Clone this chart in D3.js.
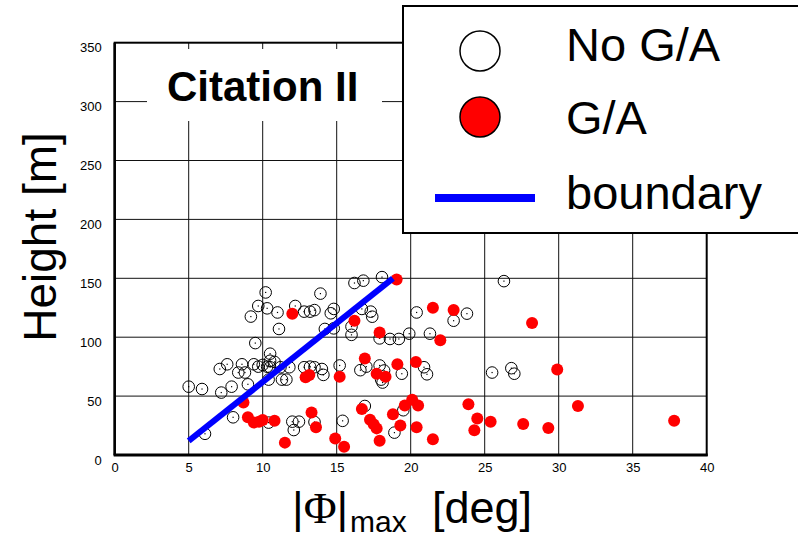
<!DOCTYPE html>
<html>
<head>
<meta charset="utf-8">
<script src="https://cdn.jsdelivr.net/npm/d3@7"></script>
<style>
  body { margin: 0; background: #fff; }
  svg { display: block; }
</style>
</head>
<body>
<svg id="chart" width="798" height="538"></svg>
<script>
// [phi max (deg), height (m)]
const noGA = [
  [5.0, 58], [5.9, 56], [6.1, 18], [7.2, 53], [7.9, 58], [9.0, 60], [8.0, 32],
  [7.1, 73], [7.6, 77], [8.35, 70], [8.6, 77], [8.8, 70], [9.4, 77], [9.7, 75],
  [10.0, 76.5], [10.3, 75], [10.5, 74.5], [10.8, 79], [10.4, 64], [11.2, 74.5],
  [11.3, 64], [11.6, 64], [11.8, 74.5], [12.8, 74.5], [13.2, 75], [13.5, 74.5],
  [14.0, 73], [14.1, 68], [15.2, 76], [16.6, 72], [17.0, 75], [17.9, 76],
  [18.2, 71.7], [18.0, 64], [18.1, 61.5], [19.4, 69],
  [9.5, 95], [10.5, 86], [10.5, 80],
  [9.2, 117.5], [9.7, 126.5], [10.3, 124.5], [10.2, 138], [11.0, 121], [12.2, 126.5],
  [12.8, 121.7], [13.2, 121.7], [13.5, 123], [13.9, 137], [14.6, 120.3], [14.8, 124],
  [16.7, 124], [17.3, 121.7], [17.4, 117.4], [11.1, 107], [14.2, 107], [14.8, 107.5],
  [16.0, 109], [16.0, 102], [17.9, 99], [18.6, 98.5], [19.2, 98.5], [19.9, 103],
  [16.2, 146], [16.8, 148], [18.06, 151],
  [20.4, 121], [23.8, 120], [22.9, 114], [21.3, 103], [20.9, 74.5], [21.1, 68.5],
  [25.5, 70], [26.8, 73.7], [27.0, 69], [26.3, 147.6],
  [12.0, 28.3], [12.45, 28.3], [12.1, 21.2], [13.5, 28], [15.4, 29], [16.9, 41.6],
  [18.9, 19], [19.5, 38], [10.4, 27.5]
];

const ga = [
  [12.0, 120], [19.05, 149], [16.2, 114], [17.9, 104], [16.9, 82], [19.1, 77],
  [20.35, 79], [12.9, 66], [13.15, 68], [15.2, 66.5], [17.7, 69], [18.3, 66.5],
  [8.7, 44.5], [9.0, 32], [9.4, 27.5], [9.75, 28.3], [10.0, 29.7], [10.8, 29], [11.5, 10.5],
  [13.3, 36], [13.6, 23.5], [14.9, 14], [15.5, 7], [16.7, 39], [17.25, 30], [17.5, 26],
  [17.7, 22.6], [17.9, 12], [18.8, 34.5], [19.3, 25], [19.6, 42], [20.1, 47], [20.5, 42],
  [20.4, 23.5], [21.5, 13.3],
  [21.5, 125], [22.9, 123], [28.2, 112], [22.0, 97.5], [29.9, 72.5], [23.9, 43],
  [31.3, 41.6], [24.5, 31], [25.4, 28.3], [24.3, 21], [27.6, 26.3], [29.3, 23], [37.8, 29]
];

const boundary = [[5.0, 12], [18.8, 150]];

const xTicks = [0, 5, 10, 15, 20, 25, 30, 35, 40];
const yTicks = [0, 50, 100, 150, 200, 250, 300, 350];

const svg = d3.select("#chart");
const pLeft = 114.7, pRight = 706.7, pTop = 42.7, pBottom = 455;

const x = d3.scaleLinear().domain([0, 40]).range([pLeft, pRight]);
const y = d3.scaleLinear().domain([0, 350]).range([pBottom, pTop]);

const tickFont = "'Liberation Sans Narrow', 'Arial Narrow', Arial, sans-serif";
const font = "Arial, 'Liberation Sans', Helvetica, sans-serif";

// grid
const grid = svg.append("g").attr("stroke", "#111").attr("stroke-width", 1);
grid.selectAll(".vx")
  .data(xTicks.slice(1, -1))
  .enter().append("line")
    .attr("x1", d => x(d)).attr("x2", d => x(d))
    .attr("y1", pTop).attr("y2", pBottom);
grid.selectAll(".hy")
  .data(yTicks.slice(1, -1))
  .enter().append("line")
    .attr("x1", pLeft).attr("x2", pRight)
    .attr("y1", d => y(d)).attr("y2", d => y(d));

// title box over the grid
svg.append("rect")
  .attr("x", 147).attr("y", 49)
  .attr("width", 235).attr("height", 72)
  .attr("fill", "#fff");
svg.append("text")
  .attr("x", 167).attr("y", 101)
  .attr("font-family", font)
  .attr("font-weight", "bold")
  .attr("font-size", 42)
  .text("Citation II");

// axes
const xAxis = svg.append("g")
  .attr("transform", `translate(0,${pBottom})`)
  .call(d3.axisBottom(x).tickValues(xTicks).tickSize(0).tickPadding(6));
const yAxis = svg.append("g")
  .attr("transform", `translate(${pLeft},0)`)
  .call(d3.axisLeft(y).tickValues(yTicks).tickSize(0).tickPadding(13));
[xAxis, yAxis].forEach(a => {
  a.select(".domain").remove();
  a.selectAll("text").attr("font-family", tickFont).attr("font-size", 13).attr("fill", "#000");
});
xAxis.selectAll("text").attr("dy", "0.85em");
yAxis.selectAll("text").attr("dy", "0.7em");

// frame
svg.append("rect")
  .attr("x", pLeft).attr("y", pTop)
  .attr("width", pRight - pLeft).attr("height", pBottom - pTop)
  .attr("fill", "none").attr("stroke", "#000").attr("stroke-width", 2);
svg.append("line")
  .attr("x1", pLeft - 1).attr("x2", pRight + 1)
  .attr("y1", pBottom).attr("y2", pBottom)
  .attr("stroke", "#000").attr("stroke-width", 3);
svg.append("line")
  .attr("x1", pLeft).attr("x2", pLeft)
  .attr("y1", pTop).attr("y2", pBottom)
  .attr("stroke", "#000").attr("stroke-width", 2.5);

// no G/A
const open = svg.append("g");
open.selectAll("circle")
  .data(noGA)
  .enter().append("circle")
    .attr("cx", d => x(d[0])).attr("cy", d => y(d[1]))
    .attr("r", 5.8)
    .attr("fill", "none").attr("stroke", "#000").attr("stroke-width", 1);
open.selectAll("rect")
  .data(noGA)
  .enter().append("rect")
    .attr("x", d => x(d[0]) - 0.6).attr("y", d => y(d[1]) - 0.6)
    .attr("width", 1.2).attr("height", 1.2)
    .attr("fill", "#000");

// G/A
svg.append("g").selectAll("circle")
  .data(ga)
  .enter().append("circle")
    .attr("cx", d => x(d[0])).attr("cy", d => y(d[1]))
    .attr("r", 6)
    .attr("fill", "#ff0000");

// boundary
svg.append("path")
  .datum(boundary)
  .attr("d", d3.line().x(d => x(d[0])).y(d => y(d[1])))
  .attr("stroke", "#0000ff").attr("stroke-width", 6).attr("fill", "none");

// legend
const lg = svg.append("g");
lg.append("rect")
  .attr("x", 403).attr("y", 6)
  .attr("width", 400).attr("height", 227)
  .attr("fill", "#fff").attr("stroke", "#000").attr("stroke-width", 2);
lg.append("circle").attr("cx", 480).attr("cy", 51).attr("r", 20)
  .attr("fill", "#fff").attr("stroke", "#000").attr("stroke-width", 1.5);
lg.append("circle").attr("cx", 480).attr("cy", 117).attr("r", 20)
  .attr("fill", "#ff0000").attr("stroke", "#000").attr("stroke-width", 1.5);
lg.append("line").attr("x1", 435).attr("x2", 535).attr("y1", 198).attr("y2", 198)
  .attr("stroke", "#0000ff").attr("stroke-width", 8);
const legendLabels = ["No G/A", "G/A", "boundary"];
const legendBase = [61, 134, 209];
lg.selectAll("text")
  .data(legendLabels)
  .enter().append("text")
    .attr("x", 566).attr("y", (d, i) => legendBase[i])
    .attr("font-family", font).attr("font-size", 47)
    .text(d => d);

// axis titles
svg.append("text")
  .attr("transform", "translate(56,237) rotate(-90)")
  .attr("text-anchor", "middle")
  .attr("font-family", font).attr("font-size", 46)
  .text("Height [m]");

const xl = svg.append("text")
  .attr("x", 292).attr("y", 523)
  .attr("font-family", font).attr("font-size", 45);
xl.append("tspan").text("|");
xl.append("tspan").attr("font-family", "'Liberation Serif', 'Times New Roman', serif").text("Φ");
xl.append("tspan").text("|");
xl.append("tspan").attr("x", 350).attr("font-size", 30).attr("dy", 9).text("max");
xl.append("tspan").attr("x", 432).attr("dy", -9).text("[deg]");
</script>
</body>
</html>
